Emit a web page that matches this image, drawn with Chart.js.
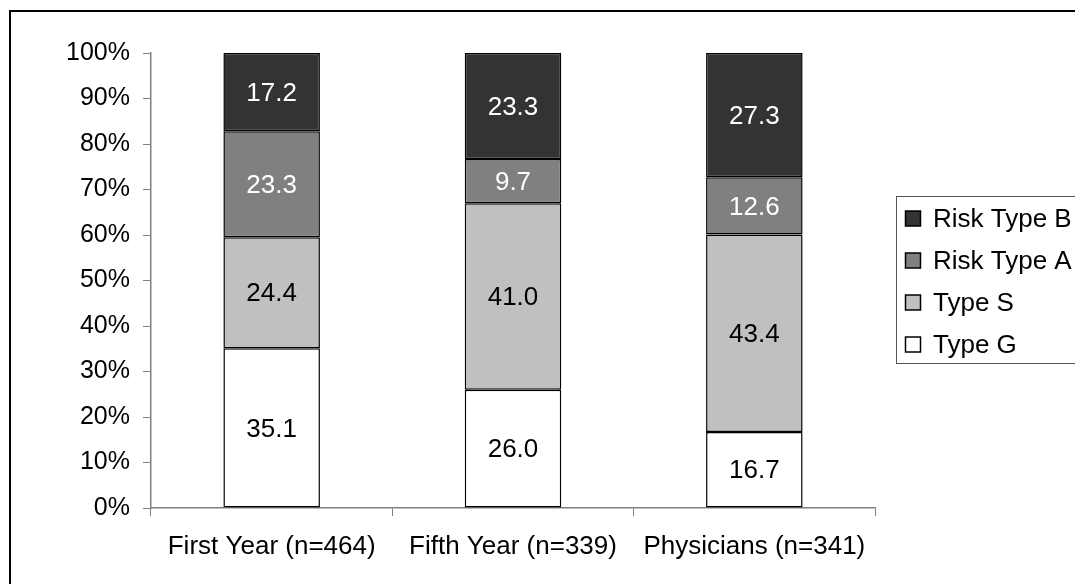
<!DOCTYPE html>
<html>
<head>
<meta charset="utf-8">
<script src="https://cdn.jsdelivr.net/npm/chart.js@4.4.0/dist/chart.umd.min.js"></script>
<style>
  html, body { margin: 0; padding: 0; background: #fff; }
  #chart { display: block; }
</style>
</head>
<body>
<canvas id="chart" width="1075" height="584"></canvas>
<script>
// Datos (porcentajes por grupo)
const categories = ['First Year (n=464)', 'Fifth Year (n=339)', 'Physicians (n=341)'];
const typeG = [35.1, 26.0, 16.7];
const typeS = [24.4, 41.0, 43.4];
const riskTypeA = [23.3, 9.7, 12.6];
const riskTypeB = [17.2, 23.3, 27.3];
const yTicks = [0, 10, 20, 30, 40, 50, 60, 70, 80, 90, 100];

const FONT = 'Liberation Sans, Arial, Helvetica, sans-serif';

// Etiquetas de valor dentro de cada segmento
const segmentLabels = {
    id: 'segmentLabels',
    afterDatasetsDraw(chart) {
        const ctx = chart.ctx;
        ctx.save();
        ctx.font = '26px ' + FONT;
        ctx.textAlign = 'center';
        ctx.textBaseline = 'middle';
        chart.data.datasets.forEach((ds, i) => {
            const meta = chart.getDatasetMeta(i);
            meta.data.forEach((bar, j) => {
                const p = bar.getProps(['x', 'y', 'base'], true);
                ctx.fillStyle = ds.labelColor;
                ctx.fillText(ds.data[j].toFixed(1), p.x, (p.y + p.base) / 2 + 1.5);
            });
        });
        ctx.restore();
    }
};

// Marco exterior y leyenda (a la derecha, recortada como en el original)
const frameAndLegend = {
    id: 'frameAndLegend',
    afterDraw(chart) {
        const ctx = chart.ctx;
        ctx.save();
        ctx.strokeStyle = '#000';
        ctx.lineWidth = 2;
        ctx.strokeRect(10, 11, 1200, 700);

        ctx.strokeStyle = '#555';
        ctx.lineWidth = 1;
        ctx.strokeRect(896.5, 196.5, 300, 167);

        ctx.font = '26px ' + FONT;
        ctx.textAlign = 'left';
        ctx.textBaseline = 'middle';
        const items = chart.data.datasets.slice().reverse();
        items.forEach((ds, k) => {
            const cy = 219 + k * 42;
            ctx.fillStyle = ds.backgroundColor;
            ctx.fillRect(905.5, cy - 8, 15, 15);
            ctx.strokeStyle = '#000';
            ctx.lineWidth = 1.5;
            ctx.strokeRect(905.5, cy - 8, 15, 15);
            ctx.fillStyle = '#000';
            ctx.fillText(ds.label, 933, cy + 1);
        });
        ctx.restore();
    }
};

const ctx = document.getElementById('chart').getContext('2d');
const chart = new Chart(ctx, {
    type: 'bar',
    data: {
        labels: categories,
        datasets: [{
            label: 'Type G',
            data: typeG,
            backgroundColor: '#ffffff',
            labelColor: '#000000'
        }, {
            label: 'Type S',
            data: typeS,
            backgroundColor: '#c0c0c0',
            labelColor: '#000000'
        }, {
            label: 'Risk Type A',
            data: riskTypeA,
            backgroundColor: '#808080',
            labelColor: '#ffffff'
        }, {
            label: 'Risk Type B',
            data: riskTypeB,
            backgroundColor: '#333333',
            labelColor: '#ffffff'
        }]
    },
    options: {
        responsive: false,
        animation: false,
        events: [],
        layout: { padding: { top: 53, right: 200, left: 0, bottom: 0 } },
        datasets: {
            bar: {
                borderColor: '#000',
                borderWidth: 1.5,
                borderSkipped: false,
                categoryPercentage: 1,
                barPercentage: 0.4
            }
        },
        plugins: {
            legend: { display: false },
            tooltip: { enabled: false }
        },
        scales: {
            x: {
                stacked: true,
                afterFit(scale) { scale.height = 76; },
                grid: {
                    offset: true,
                    drawOnChartArea: false,
                    tickLength: 8,
                    color: '#808080',
                    lineWidth: 1
                },
                border: { color: '#808080', width: 1.5 },
                ticks: {
                    color: '#000',
                    font: { family: FONT, size: 26 },
                    padding: 15,
                    maxRotation: 0
                }
            },
            y: {
                stacked: true,
                min: yTicks[0],
                max: yTicks[yTicks.length - 1],
                afterFit(scale) { scale.width = 151; },
                afterBuildTicks(scale) { scale.ticks = yTicks.map(v => ({ value: v })); },
                grid: {
                    drawOnChartArea: false,
                    tickLength: 8,
                    color: '#808080',
                    lineWidth: 1
                },
                border: { color: '#808080', width: 1.5 },
                ticks: {
                    color: '#000',
                    font: { family: FONT, size: 25 },
                    padding: 13,
                    callback: v => v + '%'
                }
            }
        }
    },
    plugins: [segmentLabels, frameAndLegend]
});
</script>
</body>
</html>
